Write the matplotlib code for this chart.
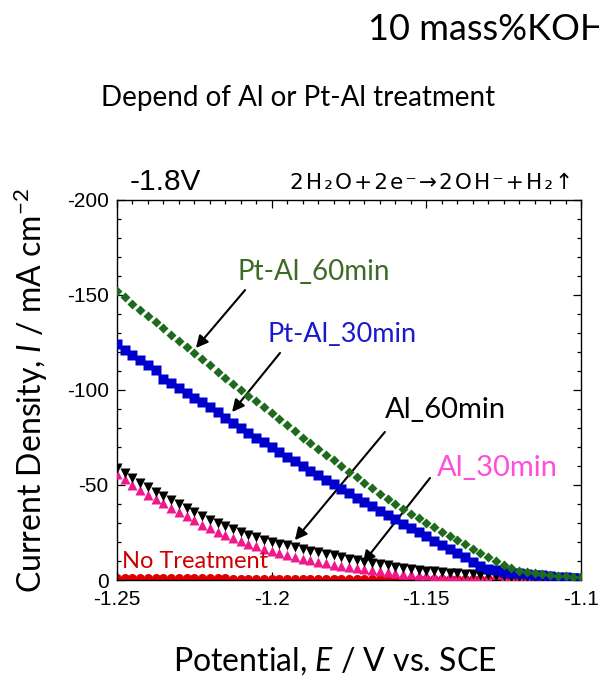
import numpy as np
import matplotlib.pyplot as plt
from matplotlib.ticker import MultipleLocator

# potential sweep, V vs SCE (one reading every 2.5 mV)
potential = np.linspace(-1.25, -1.10, 61)

# current density, mA cm-2
pt_al_60 = [-152, -148.7, -145.5, -142.2, -139, -135.7, -132.5, -129.2, -126, -122.7,
            -119.5, -116.2, -113, -109.7, -106.5, -103.2, -100, -97, -94, -91,
            -88, -84.7, -81.5, -78.2, -75, -72, -69, -66, -63, -60,
            -57, -54, -51, -48.2, -45.5, -42.7, -40, -37.5, -35, -32.5,
            -30, -27.7, -25.5, -23.2, -21, -18.7, -16.5, -14.2, -12, -10,
            -8, -6.4, -5, -4.2, -3.5, -3, -2.5, -2.2, -1.9, -1.7, -1.5]
pt_al_30 = [-124, -121, -118.5, -115.7, -113, -110.3, -106, -103.5, -101, -98.5,
            -96, -93.5, -91, -88.2, -85.5, -82.7, -80, -77.5, -75, -72.5,
            -70, -67.5, -65, -62.5, -60, -57.6, -55.2, -52.8, -50.5, -48.1,
            -45.7, -43.3, -41, -38.7, -36.5, -34.2, -32, -29.7, -27.5, -25.2,
            -23, -20.7, -18.5, -16.2, -14, -12, -9.5, -7.6, -6, -5.1,
            -4.4, -3.9, -3.5, -3.1, -2.7, -2.4, -2, -1.7, -1.4, -1.2, -1]
al_60 = [-59, -56.3, -53.7, -51.2, -48.8, -46.5, -44.2, -42, -39.8, -37.7,
         -35.7, -33.7, -31.8, -30, -28.3, -26.7, -25.2, -23.8, -22.5, -21.3,
         -20.2, -19.2, -18.2, -17.3, -16.4, -15.5, -14.6, -13.7, -12.9, -12.1,
         -11.3, -10.5, -9.7, -9, -8.3, -7.7, -7.1, -6.5, -6, -5.5,
         -5, -4.6, -4.2, -3.8, -3.5, -3.2, -2.9, -2.6, -2.4, -2.2,
         -2, -1.8, -1.6, -1.4, -1.3, -1.2, -1.1, -1, -0.9, -0.8, -0.7]
al_30 = [-56, -53, -50.2, -47.5, -45, -42.6, -40.3, -38, -35.8, -33.6,
         -31.4, -29.2, -27.2, -25.4, -23.7, -22.1, -20.6, -19.2, -17.8, -16.5,
         -15.3, -14.2, -13.1, -12.1, -11.2, -10.3, -9.5, -8.7, -8, -7.3,
         -6.7, -6.1, -5.6, -5.1, -4.6, -4.2, -3.8, -3.4, -3.1, -2.8,
         -2.5, -2.3, -2.1, -1.9, -1.7, -1.6, -1.5, -1.4, -1.3, -3,
         -1.2, -1.1, -1, -0.9, -0.9, -0.8, -0.8, -0.7, -0.7, -0.6, -0.6]
no_treat = [-0.9, -0.9, -0.9, -0.9, -0.9, -0.9, -0.9, -0.8, -0.8, -0.8,
            -0.8, -0.8, -0.8, -0.8, -0.8, -0.7, -0.7, -0.7, -0.7, -0.7,
            -0.7, -0.7, -0.7, -0.6, -0.6, -0.6, -0.6, -0.6, -0.6, -0.6,
            -0.6, -0.5, -0.5, -0.5, -0.5, -0.5, -0.5, -0.5, -0.5, -0.5,
            -0.4, -0.4, -0.4, -0.4, -0.4, -0.4, -0.4, -0.4, -0.4, -0.4,
            -0.3, -0.3, -0.3, -0.3, -0.3, -0.3, -0.3, -0.3, -0.3, -0.3, -0.3]

x_ticks = [-1.25, -1.2, -1.15, -1.1]
x_tick_labels = ["-1.25", "-1.2", "-1.15", "-1.1"]
y_ticks = [0, -50, -100, -150, -200]
y_tick_labels = ["0", "-50", "-100", "-150", "-200"]

CAL = "Lato"
ARIAL = "Liberation Sans"

plt.rcParams["axes.unicode_minus"] = False
plt.rcParams["mathtext.fontset"] = "custom"
plt.rcParams["mathtext.it"] = "Lato:italic"
plt.rcParams["mathtext.rm"] = "Lato"

fig = plt.figure(figsize=(5.99, 6.78), dpi=100)
ax = fig.add_axes([117 / 599, 98 / 678, 464 / 599, 380 / 678])

ax.plot(potential, no_treat, "o", color="#e00000", ms=6.5, mec="none", zorder=2)
ax.plot(potential, al_30, "^", color="#f0188c", ms=7.5, mec="none", zorder=3)
ax.plot(potential, al_60, "v", color="black", ms=7.5, mec="none", zorder=4)
ax.plot(potential, pt_al_30, "s", color="#0000cc", ms=7, mec="none", zorder=5)
ax.plot(potential, pt_al_60, "D", color="#1e6b1e", ms=5.3, mec="none", zorder=6)

ax.set_xlim(-1.25, -1.10)
ax.set_ylim(0, -200)
ax.set_xticks(x_ticks)
ax.set_xticklabels(x_tick_labels)
ax.set_yticks(y_ticks)
ax.set_yticklabels(y_tick_labels)
ax.xaxis.set_minor_locator(MultipleLocator(0.005))
ax.yaxis.set_minor_locator(MultipleLocator(10))
ax.tick_params(which="both", direction="in", top=True, right=True, width=0.9)
ax.tick_params(which="major", length=6, labelsize=15)
ax.tick_params(axis="x", which="major", pad=7)
ax.tick_params(axis="y", which="major", pad=6)
ax.tick_params(which="minor", length=3)
for lab in ax.get_xticklabels() + ax.get_yticklabels():
    lab.set_family(ARIAL)
for sp in ax.spines.values():
    sp.set_linewidth(1.0)

# curve labels and arrows
ax.text(-1.2112, -162, "Pt-Al_60min", color="#3d6b25", fontsize=20, family=CAL, va="center")
ax.text(-1.2012, -129, "Pt-Al_30min", color="#1a1acd", fontsize=19.5, family=CAL, va="center")
ax.text(-1.1634, -89.5, "Al_60min", color="black", fontsize=21, family=CAL, va="center")
ax.text(-1.1465, -59, "Al_30min", color="#ff4fd8", fontsize=21, family=CAL, va="center")
ax.text(-1.2485, -9.5, "No Treatment", color="#cc0000", fontsize=17, family=CAL, va="center")

arrow = dict(arrowstyle="-|>", color="black", lw=1.5, mutation_scale=18, shrinkA=0, shrinkB=0)
ax.annotate("", xy=(-1.2245, -122.1), xytext=(-1.2086, -152.6), arrowprops=arrow)
ax.annotate("", xy=(-1.2128, -88.4), xytext=(-1.1973, -119.5), arrowprops=arrow)
ax.annotate("", xy=(-1.1925, -21), xytext=(-1.1634, -77.9), arrowprops=arrow)
ax.annotate("", xy=(-1.1705, -8.9), xytext=(-1.1488, -53.7), arrowprops=arrow)

# figure texts
fig.text(368 / 599, 1 - 40 / 678, "10 mass%KOH", fontsize=26, family=CAL, va="baseline")
fig.text(101 / 599, 1 - 106 / 678, "Depend of Al or Pt-Al treatment", fontsize=20,
         family=CAL, va="baseline")
fig.text(130 / 599, 1 - 190 / 678, "-1.8V", fontsize=21.5, family=ARIAL, va="baseline")
hs = "\u200a"
reaction = hs.join(["2", "H", "\u2082", "O", "+", "2", "e", "\u207b", "\u2192", "2", "O", "H",
                    "\u207b", "+", "H", "\u2082", "\u2191"])
fig.text(290 / 599, 1 - 189 / 678, reaction, fontsize=15.5, family="DejaVu Sans", va="baseline")

fig.text(173 / 599, 1 - 671 / 678, "Potential, $\\mathit{E}$ / V vs. SCE", fontsize=23,
         family=CAL, va="baseline")
fig.text(31 / 599, 1 - 390 / 678, "Current Density, $\\mathit{I}$ / mA cm$^{-2}$",
         fontsize=23, family=CAL, rotation=90, ha="center", va="center")

fig.savefig("out.png", dpi=100)
